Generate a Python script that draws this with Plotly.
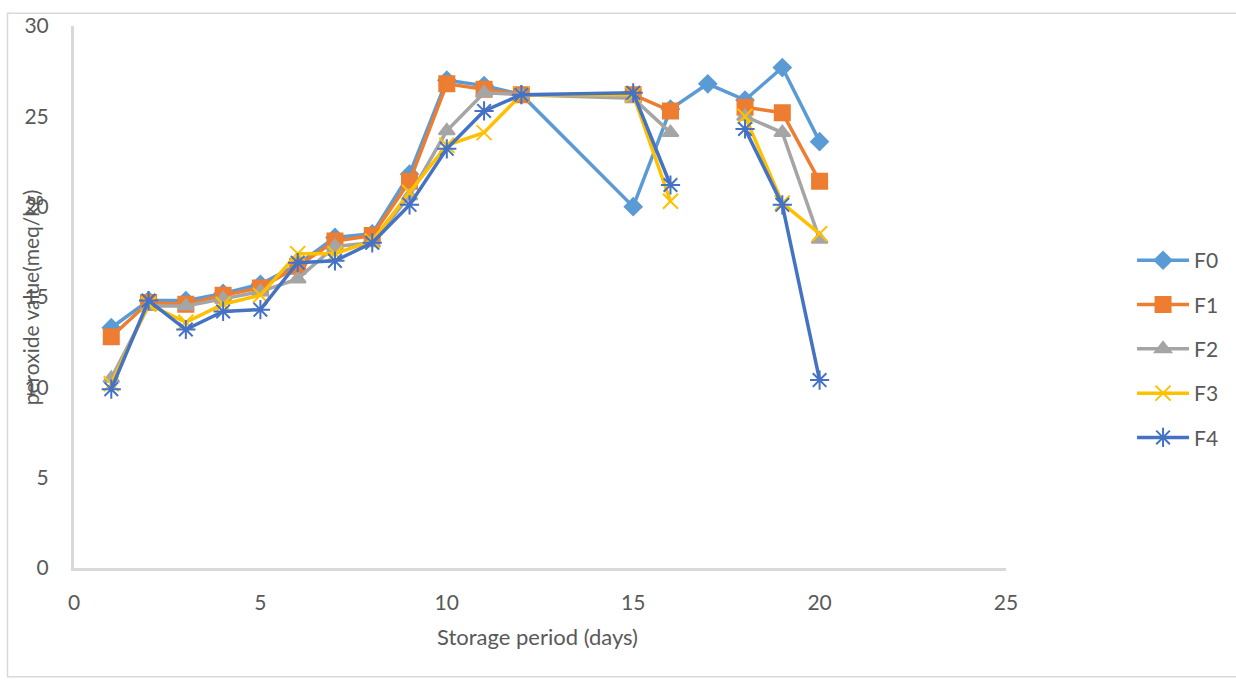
import plotly.graph_objects as go

days = [1, 2, 3, 4, 5, 6, 7, 8, 9, 10, 11, 12, 15, 16, 17, 18, 19, 20]
F0 = [13.3, 14.8, 14.8, 15.2, 15.7, 16.8, 18.3, 18.5, 21.8, 27.0, 26.7, 26.2, 20.0, 25.4, 26.8, 25.9, 27.7, 23.6]
F1 = [12.8, 14.7, 14.6, 15.1, 15.5, 16.7, 18.1, 18.4, 21.4, 26.8, 26.5, 26.2, 26.2, 25.3, None, 25.5, 25.2, 21.4]
F2 = [10.5, 14.5, 14.5, 14.9, 15.3, 16.0, 17.8, 18.0, 20.6, 24.2, 26.3, 26.2, 26.0, 24.1, None, 25.0, 24.1, 18.2]
F3 = [10.2, 14.6, 13.6, 14.6, 15.1, 17.4, 17.4, 18.1, 20.8, 23.4, 24.1, 26.2, 26.2, 20.3, None, 25.0, 20.2, 18.5]
F4 = [9.9, 14.8, 13.2, 14.2, 14.3, 16.9, 17.0, 18.0, 20.1, 23.2, 25.3, 26.2, 26.3, 21.2, None, 24.3, 20.1, 10.4]

series_names = ["F0", "F1", "F2", "F3", "F4"]
series_values = [F0, F1, F2, F3, F4]
colors = ["#5B9BD5", "#ED7D31", "#A5A5A5", "#FFC000", "#4472C4"]
symbols = ["diamond", "square", "triangle-up", "x-thin-open", "asterisk-open"]
sizes = [13, 15, 14, 15, 16]

fig = go.Figure()
for name, vals, c, s, sz in zip(series_names, series_values, colors, symbols, sizes):
    fig.add_trace(go.Scatter(
        x=days, y=vals, name=name, mode="lines+markers",
        connectgaps=False, legendgroup=name,
        line=dict(color=c, width=3.5),
        marker=dict(symbol=s, size=sz, color=c, line=dict(color=c, width=2)),
    ))

font_family = "Lato, 'Open Sans', sans-serif"
fsz = 21
pw = 1236 - 74 - 223
fig.update_layout(
    width=1236, height=684,
    margin=dict(l=74, r=223, t=20, b=116),
    paper_bgcolor="white", plot_bgcolor="white",
    font=dict(family=font_family, color="#595959", size=fsz),
    showlegend=True,
    legend=dict(x=(1140 - 74) / pw, y=0.605, xanchor="left", yanchor="top",
                font=dict(size=fsz, color="#595959"),
                tracegroupgap=14, itemwidth=52, bgcolor="rgba(0,0,0,0)"),
    xaxis=dict(range=[0, 25], tickvals=[0, 5, 10, 15, 20, 25], showgrid=False,
               zeroline=False, showline=True, linecolor="#D9D9D9", linewidth=3,
               ticks="", ticklabelstandoff=14, tickfont=dict(size=fsz, color="#595959")),
    yaxis=dict(range=[0, 30], tickvals=[0, 5, 10, 15, 20, 25, 30], showgrid=False,
               zeroline=False, showline=True, linecolor="#D9D9D9", linewidth=3,
               ticks="", ticklabelstandoff=18, tickfont=dict(size=fsz, color="#595959")),
    annotations=[
        dict(text="peroxide value(meq/kg)", textangle=-90, xref="paper", yref="paper",
             x=(30 - 74) / pw, y=0.5, xanchor="center", yanchor="middle",
             showarrow=False, font=dict(size=fsz, color="#595959")),
        dict(text="Storage period (days)", xref="paper", yref="paper",
             x=(541 - 74) / pw, y=-(637 - 568) / 548, xanchor="center", yanchor="middle",
             showarrow=False, font=dict(size=22, color="#595959")),
    ],
    shapes=[
        dict(type="rect", xref="paper", yref="paper",
             x0=(7 - 74) / pw, x1=(1250 - 74) / pw,
             y0=-(678 - 568) / 548, y1=(568 - 7) / 548,
             line=dict(color="#D9D9D9", width=1.5), fillcolor="rgba(0,0,0,0)", layer="below"),
    ],
)

fig.write_html("out.html", config={"displayModeBar": False},
               post_script="document.body.style.margin='0px';")
